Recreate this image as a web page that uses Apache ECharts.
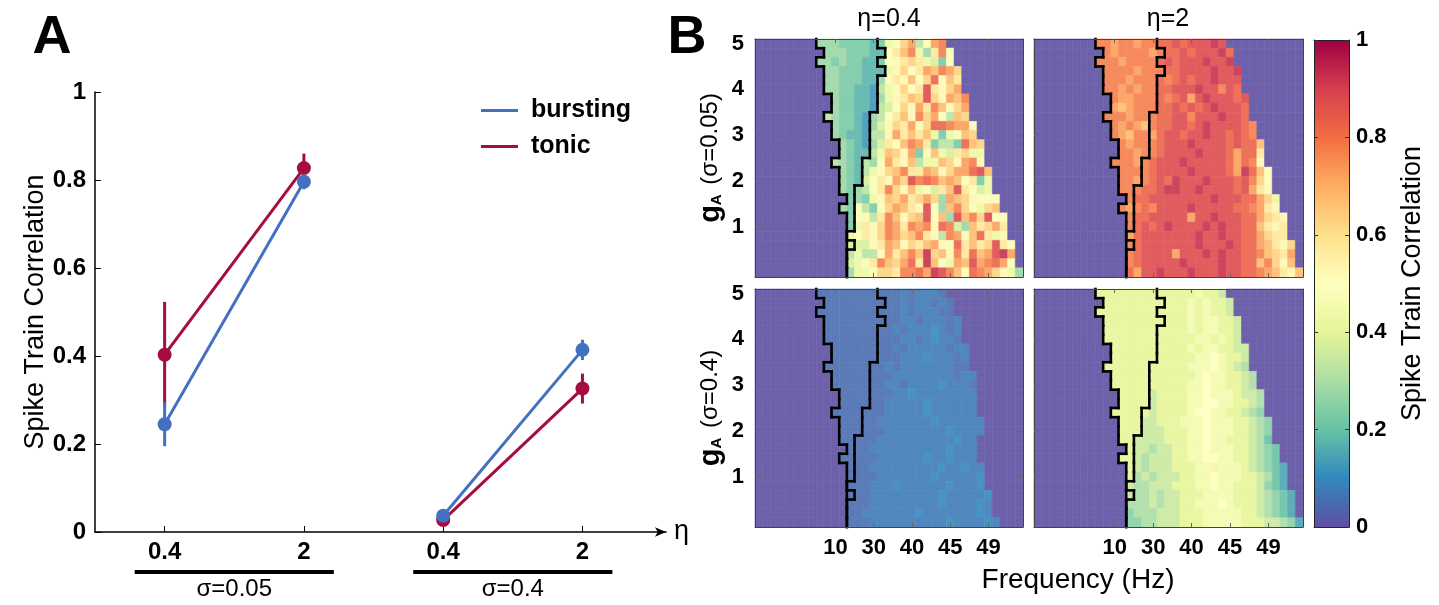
<!DOCTYPE html>
<html>
<head>
<meta charset="utf-8">
<script src="https://cdn.jsdelivr.net/npm/echarts@6/dist/echarts.min.js"></script>
<style>
  html, body { margin: 0; padding: 0; background: #fff; }
  #chart { width: 1439px; height: 605px; }
</style>
</head>
<body>
<div id="chart"></div>
<script>
const FONT = '"Liberation Sans", Arial, Helvetica, sans-serif';

// ---------- Panel A: mean spike-train correlation (± error) ----------
const etaLabels = ['0.4', '2', '0.4', '2'];
const sigmaGroups = [
  { label: 'σ=0.05', first: 0, last: 1 },
  { label: 'σ=0.4', first: 2, last: 3 }
];
const burstMean = [0.245, 0.796, 0.037, 0.414];
const burstErr  = [0.050, 0.017, 0.010, 0.023];
const tonicMean = [0.403, 0.827, 0.027, 0.326];
const tonicErr  = [0.120, 0.033, 0.012, 0.034];
const BLUE = '#4470c2';
const RED = '#a50d3f';

// ---------- Panel B: correlation maps over frequency x g_A ----------
const freqTickIndex = [10, 15, 20, 25, 30];
const freqTickText = ['10', '30', '40', '45', '49'];
const gTicks = [1, 2, 3, 4, 5];
const gTop = 5.0;   // first row
const gStep = 0.2;  // row spacing in g_A
// first tonic column in each row (cells left of it and right of the firing edge are bursting)
const burstEnd = [16, 17, 16, 17, 16, 16, 16, 16, 15, 15, 15, 15, 15, 14, 14, 14, 13, 13, 13, 13, 13, 12, 13, 12, 12, 12];

// Cell codes: '.' = no firing; 'A'..'U' = 0, 0.05, ..., 1; lower case adds 0.025.
const corrScale = 'ABCDEFGHIJKLMNOPQRSTU';

const corrEta04Sig005 = [
  '........fffeeeedeijmogjop..........',
  '.........fffeeeddjlnpiflpj.........',
  '........ffefeeddejklmlihej.........',
  '.........ffeeedddikmjlonpom........',
  '.........ffeeeddfjlknjmqknl........',
  '.........ffeeddcgikmjlrlkmo........',
  '..........feeddcfiklnmrmkonp.......',
  '..........feeddcghjmkolpnjmo.......',
  '.........gfeedcfgjlnkpmojgnm.......',
  '..........feedcfhkmlojmqqpooj......',
  '..........feddcggkolnlnieijnm......',
  '...........fedcfhljnpoleggeqnm.....',
  '...........feddginmkoeknihlmii.....',
  '..........gfedgfjolkngiinmkopk.....',
  '...........fedgikmnpllonkmooqrn....',
  '...........fedhjlkomrpqpnonjlei....',
  '...........fefgjlpmknijhlnrljhi....',
  '............efeiknmolmomfonmkjjj...',
  '...........fejgejmonlkrjfnpmjimn...',
  '............ejkglpnkmnrjnfrnpmrjk..',
  '............eilkmpolpopkqphfnlmol..',
  '............ijlkmpomnplkgpoknqlik..',
  '............hhhklonkmlnokjqlnlmrlj.',
  '............giggkolnpnsmnkplqnorso.',
  '............hijlpnmoqlsnjionropqoj.',
  '............fiijmmlppqosrpnjqpomkif'
];

const corrEta2Sig005 = [
  '........ppoppoppqqrqrrrsr..........',
  '.........poppppopqqrqrrrsq.........',
  '........pppoppppqrqrrrsrrs.........',
  '.........ppppopppqqrrrrsrrs........',
  '.........pppopppqpqrqrrsrrr........',
  '.........ppopoppqqrrrsrrprq........',
  '..........poopppqpqrorsrrrqr.......',
  '..........onopppqqrqrqrsrrrq.......',
  '.........pppopppqqrrprrrsrrq.......',
  '..........poponpqqrrqrsrrrrqp......',
  '..........ponppoqrrqrrsrrqrqp......',
  '...........popppqrrrsrrrrqrqqn.....',
  '...........ppoppqrrrrsrrrqoqql.....',
  '..........pppopqrrrsrrrrrqoqpk.....',
  '...........ppppqrrrrsrrrrqosqnj....',
  '...........ppopqrqsrrrsrrrqrpmj....',
  '...........pppqqrssrrsrrrrqrolk....',
  '............pqqrrrrrrrrsrrrqqomi...',
  '...........popqprrrrsrrrrrqqpolk...',
  '............pqqrrrrrorrsrrrqqomlk..',
  '............pqrqrsrrrrsrsrrqqnlkl..',
  '............oqrrrrrrrsrrsrrqqomll..',
  '............pqrrrrrrrsrrrsrqqonlkm.',
  '............pqrrrrorrrsrsrrqqpnmlo.',
  '............pqrrrrrsrrrrsrrqqnpmkn.',
  '............qorrsrrrsrrrsrrqqponlkn'
];

const corrEta04Sig04 = [
  '........BBBBBBBBBBBbBbbbB..........',
  '.........BBBBBBBBBBbBbbBbB.........',
  '........BBBBBBBBBBBbBbbbBB.........',
  '.........BBBBBBBBBBbbBbbbBb........',
  '.........BBBBBBBBBbBbbbCbBb........',
  '.........BBBBBBBBBBbbBbCbbB........',
  '..........BBBBBBBBbBbbbbbBbb.......',
  '..........BBBBBBBBBbbbCbbbBb.......',
  '.........BBBBBBBBbBbbbbbbbBB.......',
  '..........BBBBBBBBbbbbbbbbBbb......',
  '..........BBBBBBBbbBbbbbCbbbB......',
  '...........BBBBBBBbbCbbbbbbbb......',
  '...........BBBBBBbbbbbCbbbbbb......',
  '..........BBBBBBBbbbbbCbbbbbb......',
  '...........BBBBBbbbbbbbCbbbbbb.....',
  '...........BBBBBBbbbbbbbbCbbbb.....',
  '...........BBBBBbbbbbbbbbbCbb......',
  '............BBBbbbbbbbbbbCbbb......',
  '...........BBBBBbbbbbbCbbCbbb......',
  '............BBBbbbbbbbbbCbbCbb.....',
  '............BBBBbbbbbbbCbbbbbC.....',
  '............BBBbbbCbbbbbbCbbbC.....',
  '............BBBbbbbbbbbbCbbbbbC....',
  '............BBBbbbbbbbbbCbbbbCb....',
  '............BBbbbbbbbCbbbbbbbCb....',
  '............BBBbbbbbbbbbbCbbbbCb...'
];

const corrEta2Sig04 = [
  '........IIIIIIIIIIIIIJIIH..........',
  '.........IIIIIIIIIIIJIJIIH.........',
  '........IIIIIIIIIIIIJIJIIH.........',
  '.........IIIIIIIIIIIJIJJIIH........',
  '.........IIIIIIIIIIIJIJJIIH........',
  '.........IIIIIIIIIIIIJJIJIH........',
  '..........IIIIIIIIIIJIJJIIHH.......',
  '..........IIIIIIIIIIIJJKJIIH.......',
  '.........IIIIIIIIIIIJJJKJIHG.......',
  '..........IIIIIIIIIIIJKJJIIHG......',
  '..........IIIIIIIIIIJJKJJIIHG......',
  '...........IIIIHIIIIJJKJJJIHHG.....',
  '...........IIIIHIIIIJJKKJJIIHG.....',
  '..........IIIIIHIIIIJKKJJIIHGF.....',
  '...........IIIHHIIIJJJKJJJIIHGF....',
  '...........IIIHHHIIIJJKJJJIIHGF....',
  '...........IIHHHHIIIJJKJJIIIHGE....',
  '............IHHGHHIIJJKJJJIIHGFE...',
  '...........IIHGHHHIIJJKKJJIIHGFE...',
  '............IHGHHHIIIJJLJJJIHGFED..',
  '............IGHGHHHIIJJKJJJIIHGED..',
  '............HGGHHHIIIJJKJJIIIHFED..',
  '............HGGHGHHIIIJJJJIIIHGFED.',
  '............GGGHGHHIIJJJKJIIIHGFED.',
  '............FGGGHHHIIIJJJJJIIHGFED.',
  '............FFGGHHHIIIJJJJJIIIHHGFD'
];

// Spectral colour ramp, low -> high
const spectral = ['#5e4fa2', '#3288bd', '#66c2a5', '#abdda4', '#e6f598', '#ffffbf',
                  '#fee08b', '#fdae61', '#f46d43', '#d53e4f', '#9e0142'];
const CELL_FADE = 0.1;  // map cells are drawn slightly washed out against white

// ---------- helpers ----------
function decodeCell(ch) {
  if (ch === '.') return 0;
  const up = ch.toUpperCase();
  const i = corrScale.indexOf(up);
  return i * 0.05 + (ch === up ? 0 : 0.025);
}
function rowG(r) { return +(gTop - gStep * r).toFixed(2); }
function cellData(rows) {
  const out = [];
  rows.forEach((s, r) => {
    if (s.length !== 35) throw new Error('row ' + r + ' has length ' + s.length);
    for (let c = 0; c < s.length; c++) out.push([c, rowG(r), decodeCell(s[c])]);
  });
  return out;
}
// Step outlines: left firing edge and the bursting / tonic boundary
function outlineSegments(rows) {
  const nR = rows.length, nC = rows[0].length;
  const fireStart = rows.map(s => s.search(/[^.]/));
  const masks = [(r, c) => c < fireStart[r], (r, c) => c < burstEnd[r]];
  const segs = [];
  masks.forEach(m => {
    for (let r = 0; r < nR; r++)
      for (let c = 0; c < nC - 1; c++)
        if (m(r, c) !== m(r, c + 1))
          segs.push([c + 0.5, rowG(r) + gStep / 2, c + 0.5, rowG(r) - gStep / 2]);
    for (let r = 0; r < nR - 1; r++)
      for (let c = 0; c < nC; c++)
        if (m(r, c) !== m(r + 1, c))
          segs.push([c - 0.5, rowG(r) - gStep / 2, c + 0.5, rowG(r) - gStep / 2]);
  });
  return segs;
}

// ---------- layout ----------
const panelA = { left: 95, top: 92, width: 571, height: 440 };
const heat = [
  { rows: corrEta04Sig005, left: 755,  top: 39,  width: 268, yLab: true,  xLab: false, name: '{g|g}{s|A} (σ=0.05)' },
  { rows: corrEta2Sig005,  left: 1034, top: 39,  width: 269, yLab: false, xLab: false },
  { rows: corrEta04Sig04,  left: 755,  top: 289, width: 268, yLab: true,  xLab: true,  name: '{g|g}{s|A} (σ=0.4)' },
  { rows: corrEta2Sig04,   left: 1034, top: 289, width: 269, yLab: false, xLab: true }
];
const HEAT_H = 238;
const cbar = { left: 1314, top: 40, width: 35, height: 487 };

const grids = [panelA];
const xAxes = [];
const yAxes = [];
const series = [];

// Panel A axes
xAxes.push({
  gridIndex: 0, type: 'value', min: -0.5, max: 3.6,
  axisLine: { show: true, onZero: false, lineStyle: { color: '#000', width: 1.5 }, symbol: ['none', 'arrow'], symbolSize: [7, 11] },
  axisTick: { show: true, inside: true, length: 6, customValues: [0, 1, 2, 3], lineStyle: { color: '#000' } },
  axisLabel: { customValues: [0, 1, 2, 3], formatter: v => etaLabels[Math.round(v)], fontSize: 24, fontWeight: 'bold', color: '#000', margin: 8 },
  splitLine: { show: false },
  name: 'η', nameLocation: 'end', nameGap: 8, nameTextStyle: { fontSize: 27, color: '#000', verticalAlign: 'middle' }
});
yAxes.push({
  gridIndex: 0, type: 'value', min: 0, max: 1, interval: 0.2,
  axisLine: { show: true, onZero: false, lineStyle: { color: '#000', width: 1.5 } },
  axisTick: { show: true, inside: true, length: 6, lineStyle: { color: '#000' } },
  axisLabel: { fontSize: 24, fontWeight: 'bold', color: '#000', margin: 9 },
  splitLine: { show: false },
  name: 'Spike Train Correlation', nameLocation: 'middle', nameGap: 44,
  nameTextStyle: { fontSize: 27, color: '#000' }
});

// Panel A series: error bars and mean lines (tonic first, bursting on top)
function errorSeries(mean, err, color, z) {
  return {
    type: 'custom', xAxisIndex: 0, yAxisIndex: 0, z: z, silent: true,
    data: mean.map((m, i) => [i, m - err[i], m + err[i]]),
    encode: { x: 0, y: [1, 2] },
    renderItem(params, api) {
      const a = api.coord([api.value(0), api.value(1)]);
      const b = api.coord([api.value(0), api.value(2)]);
      return { type: 'line', shape: { x1: a[0], y1: a[1], x2: b[0], y2: b[1] }, style: { stroke: color, lineWidth: 3 } };
    }
  };
}
function lineSeries(name, mean, group, color, z) {
  return {
    type: 'line', name: name, xAxisIndex: 0, yAxisIndex: 0, z: z,
    data: [[group.first, mean[group.first]], [group.last, mean[group.last]]],
    symbol: 'circle', symbolSize: 14, showSymbol: true,
    lineStyle: { color: color, width: 3 }, itemStyle: { color: color },
    emphasis: { disabled: true }
  };
}
series.push(errorSeries(tonicMean, tonicErr, RED, 2));
sigmaGroups.forEach(g => series.push(lineSeries('tonic', tonicMean, g, RED, 3)));
series.push(errorSeries(burstMean, burstErr, BLUE, 4));
sigmaGroups.forEach(g => series.push(lineSeries('bursting', burstMean, g, BLUE, 5)));

// σ group brackets under the η axis
series.push({
  type: 'custom', xAxisIndex: 0, yAxisIndex: 0, silent: true, z: 6,
  data: sigmaGroups.map((g, i) => [g.first, g.last, i]),
  encode: { x: [0, 1] },
  renderItem(params, api) {
    const g = sigmaGroups[api.value(2)];
    const a = api.coord([g.first, 0]);
    const b = api.coord([g.last, 0]);
    const ext = api.size([0.215, 0])[0];
    const y = a[1] + 40;
    return {
      type: 'group',
      children: [
        { type: 'line', shape: { x1: a[0] - ext, y1: y, x2: b[0] + ext, y2: y }, style: { stroke: '#000', lineWidth: 4 } },
        { type: 'text', x: (a[0] + b[0]) / 2, y: y + 5,
          style: { text: g.label, align: 'center', verticalAlign: 'top', fontSize: 24, fontFamily: FONT, fill: '#000' } }
      ]
    };
  }
});

// Panel B grids, axes and series
const heatSeriesIdx = [];
heat.forEach((p) => {
  const gi = grids.length;
  grids.push({ left: p.left, top: p.top, width: p.width, height: HEAT_H });
  const xBottom = xAxes.length;
  const frameLine = { show: true, onZero: false, lineStyle: { color: '#444', width: 1 } };
  const tickStyle = { color: '#666', width: 1 };
  xAxes.push({
    gridIndex: gi, type: 'value', min: -0.5, max: 34.5, position: 'bottom', z: 10,
    axisLine: frameLine,
    axisTick: { show: true, inside: true, length: 4, customValues: freqTickIndex, lineStyle: tickStyle },
    axisLabel: { show: p.xLab, customValues: freqTickIndex, formatter: v => freqTickText[freqTickIndex.indexOf(Math.round(v))],
                 fontSize: 22, fontWeight: 'bold', color: '#000', margin: 10 },
    splitLine: { show: false }
  });
  xAxes.push({
    gridIndex: gi, type: 'value', min: -0.5, max: 34.5, position: 'top', z: 10,
    axisLine: frameLine,
    axisTick: { show: true, inside: true, length: 4, customValues: freqTickIndex, lineStyle: tickStyle },
    axisLabel: { show: false }, splitLine: { show: false }
  });
  const yLeft = yAxes.length;
  yAxes.push({
    gridIndex: gi, type: 'value', min: -0.1, max: 5.1, position: 'left', z: 10,
    axisLine: frameLine,
    axisTick: { show: true, inside: true, length: 4, customValues: gTicks, lineStyle: tickStyle },
    axisLabel: { show: p.yLab, customValues: gTicks, fontSize: 22, fontWeight: 'bold', color: '#000', margin: 11 },
    splitLine: { show: false },
    name: p.name || '', nameLocation: 'middle', nameGap: 30,
    nameTextStyle: {
      fontSize: 24, color: '#000',
      rich: {
        g: { fontSize: 29, fontWeight: 'bold', color: '#000' },
        s: { fontSize: 15, fontWeight: 'bold', color: '#000', padding: [12, 3, 0, 0] }
      }
    }
  });
  yAxes.push({
    gridIndex: gi, type: 'value', min: -0.1, max: 5.1, position: 'right', z: 10,
    axisLine: frameLine,
    axisTick: { show: true, inside: true, length: 4, customValues: gTicks, lineStyle: tickStyle },
    axisLabel: { show: false }, splitLine: { show: false }
  });
  p.xAxisIndex = xBottom;
  p.yAxisIndex = yLeft;
});

heat.forEach(p => {
  heatSeriesIdx.push(series.length);
  series.push({
    type: 'custom', xAxisIndex: p.xAxisIndex, yAxisIndex: p.yAxisIndex, silent: true, z: 2,
    dimensions: ['col', 'gA', 'corr'],
    encode: { x: 0, y: 1 },
    data: cellData(p.rows),
    renderItem(params, api) {
      const c = api.value(0), g = api.value(1);
      const a = api.coord([c - 0.5, g + gStep / 2]);
      const b = api.coord([c + 0.5, g - gStep / 2]);
      const color = echarts.color.lerp(CELL_FADE, [api.visual('color'), '#ffffff']);
      return { type: 'rect', shape: { x: a[0], y: a[1], width: b[0] - a[0], height: b[1] - a[1] },
               style: { fill: color, stroke: color, lineWidth: 0.6 } };
    }
  });
});
heat.forEach(p => {
  series.push({
    type: 'custom', xAxisIndex: p.xAxisIndex, yAxisIndex: p.yAxisIndex, silent: true, z: 3,
    encode: { x: [0, 2], y: [1, 3] },
    data: outlineSegments(p.rows),
    renderItem(params, api) {
      const a = api.coord([api.value(0), api.value(1)]);
      const b = api.coord([api.value(2), api.value(3)]);
      return { type: 'line', shape: { x1: a[0], y1: a[1], x2: b[0], y2: b[1] },
               style: { stroke: '#000', lineWidth: 2.6, lineCap: 'square' } };
    }
  });
});

// Colour bar: gradient strip on its own grid, scale on the right
const cbGrid = grids.length;
grids.push(cbar);
const cbX = xAxes.length;
const cbLine = { show: true, onZero: false, lineStyle: { color: '#222' } };
xAxes.push({ gridIndex: cbGrid, type: 'value', min: 0, max: 1, position: 'bottom', z: 10,
  axisLine: cbLine, axisTick: { show: false }, axisLabel: { show: false }, splitLine: { show: false } });
xAxes.push({ gridIndex: cbGrid, type: 'value', min: 0, max: 1, position: 'top', z: 10,
  axisLine: cbLine, axisTick: { show: false }, axisLabel: { show: false }, splitLine: { show: false } });
const cbY = yAxes.length;
yAxes.push({ gridIndex: cbGrid, type: 'value', min: 0, max: 1, interval: 0.2, position: 'left', z: 10,
  axisLine: cbLine,
  axisTick: { show: true, inside: true, length: 4, lineStyle: { color: '#333' } },
  axisLabel: { show: false }, splitLine: { show: false } });
yAxes.push({ gridIndex: cbGrid, type: 'value', min: 0, max: 1, interval: 0.2, position: 'right', z: 10,
  axisLine: cbLine,
  axisTick: { show: true, inside: true, length: 4, lineStyle: { color: '#333' } },
  axisLabel: { fontSize: 22, fontWeight: 'bold', color: '#000', margin: 7 },
  splitLine: { show: false },
  name: 'Spike Train Correlation', nameLocation: 'middle', nameGap: 50, nameRotate: 90,
  nameTextStyle: { fontSize: 27, color: '#000' } });
series.push({
  type: 'custom', xAxisIndex: cbX, yAxisIndex: cbY, silent: true, z: 2,
  data: [[0, 0, 1, 1]],
  encode: { x: [0, 2], y: [1, 3] },
  renderItem(params, api) {
    const a = api.coord([api.value(0), api.value(3)]);
    const b = api.coord([api.value(2), api.value(1)]);
    return {
      type: 'rect', shape: { x: a[0], y: a[1], width: b[0] - a[0], height: b[1] - a[1] },
      style: { fill: { type: 'linear', x: 0, y: 1, x2: 0, y2: 0, global: false,
                       colorStops: spectral.map((c, i) => ({ offset: i / (spectral.length - 1), color: c })) } }
    };
  }
});

const option = {
  animation: false,
  backgroundColor: '#fff',
  textStyle: { fontFamily: FONT },
  grid: grids,
  xAxis: xAxes,
  yAxis: yAxes,
  legend: {
    data: ['bursting', 'tonic'], orient: 'vertical', left: 476, top: 93,
    icon: 'rect', itemWidth: 37, itemHeight: 3, itemGap: 11, selectedMode: false,
    textStyle: { fontSize: 25, fontWeight: 'bold', color: '#000', padding: [0, 0, 0, 8] }
  },
  visualMap: {
    show: false, type: 'continuous', min: 0, max: 1, dimension: 2, seriesIndex: heatSeriesIdx,
    inRange: { color: spectral }
  },
  graphic: [
    { type: 'text', x: 52, y: 38, style: { text: 'A', font: 'bold 54px ' + FONT, align: 'center', verticalAlign: 'middle', fill: '#000' } },
    { type: 'text', x: 687, y: 38, style: { text: 'B', font: 'bold 54px ' + FONT, align: 'center', verticalAlign: 'middle', fill: '#000' } },
    { type: 'text', x: 889, y: 19, style: { text: 'η=0.4', font: '25px ' + FONT, align: 'center', verticalAlign: 'middle', fill: '#000' } },
    { type: 'text', x: 1168, y: 19, style: { text: 'η=2', font: '25px ' + FONT, align: 'center', verticalAlign: 'middle', fill: '#000' } },
    { type: 'text', x: 1078, y: 580, style: { text: 'Frequency (Hz)', font: '28px ' + FONT, align: 'center', verticalAlign: 'middle', fill: '#000' } }
  ],
  series: series
};

const chart = echarts.init(document.getElementById('chart'));
chart.setOption(option);
</script>
</body>
</html>
